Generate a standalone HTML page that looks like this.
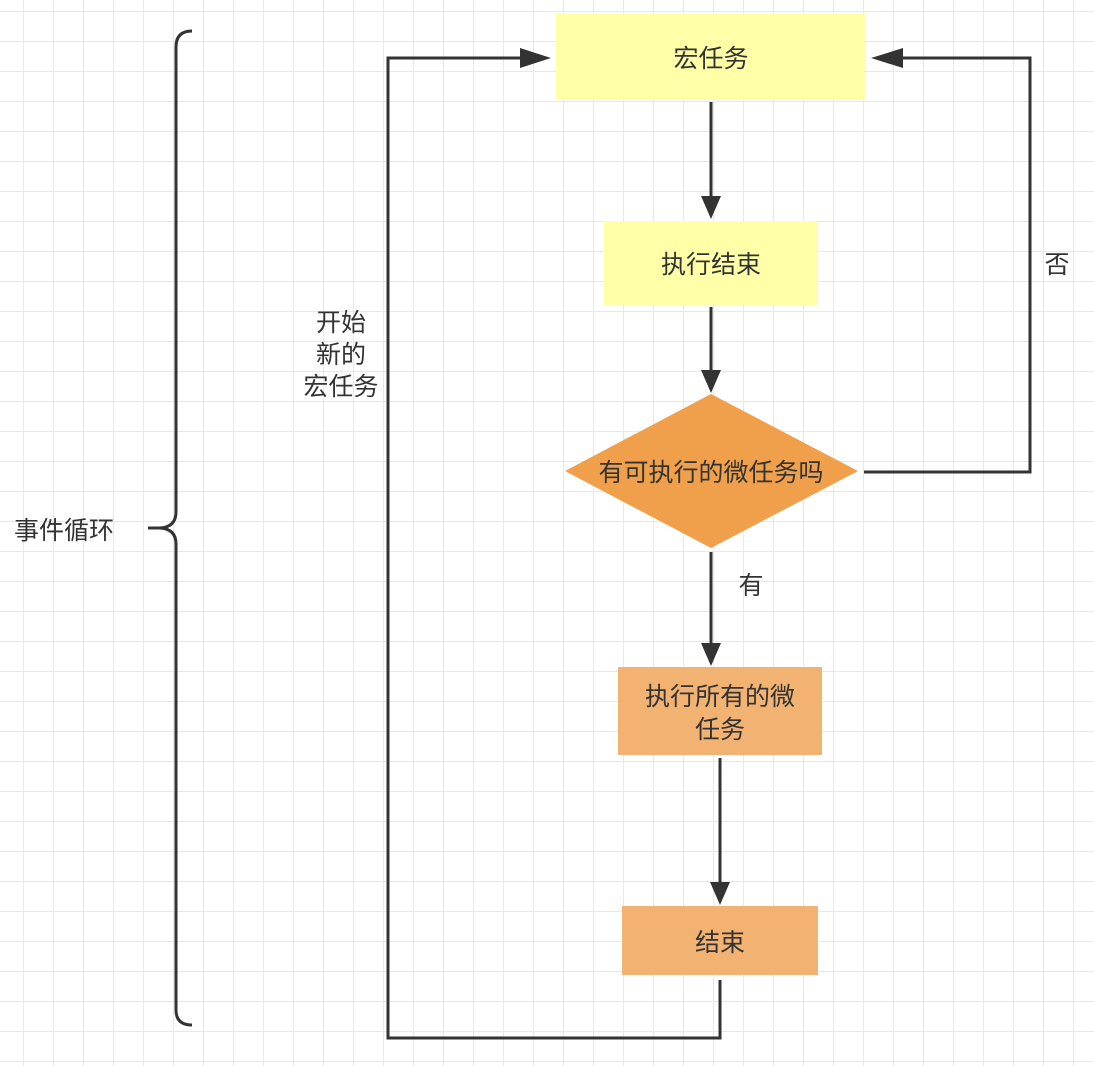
<!DOCTYPE html>
<html><head><meta charset="utf-8"><style>
html,body{margin:0;padding:0;background:#fff}
svg{display:block}
text{font-family:"Liberation Sans","Noto Sans CJK SC",sans-serif;fill:#333;font-size:25px}
</style></head><body>
<svg width="1094" height="1066" viewBox="0 0 1094 1066" xmlns="http://www.w3.org/2000/svg">
<defs>
<pattern id="g" x="23" y="11" width="30" height="30" patternUnits="userSpaceOnUse">
<path d="M0 0V30M0 0H30" stroke="#e8e8e8" stroke-width="2" fill="none"/>
</pattern>
</defs>
<rect width="1094" height="1066" fill="url(#g)"/>
<g stroke="#333" stroke-width="3" fill="none">
<path d="M192 31 Q176 31 176 47 V512 Q176 527 160 528 H148 H160 Q176 529 176 544 V1010 Q176 1025 192 1025"/>
<path d="M711 102 V198"/>
<path d="M711 307 V372"/>
<path d="M711 552 V645"/>
<path d="M720 758 V884"/>
<path d="M720 980 V1038 H388 V58 H528"/>
<path d="M864 472 H1030 V58 H896"/>
</g>
<g fill="#333">
<polygon points="701,196 721,196 711,219"/>
<polygon points="701,370 721,370 711,393"/>
<polygon points="701,643 721,643 711,666"/>
<polygon points="710,882 730,882 720,905"/>
<polygon points="520,48 520,68 551,58"/>
<polygon points="903,48 903,68 871,58"/>
</g>
<rect x="556" y="14" width="309" height="86" fill="#ffffa8"/>
<rect x="604" y="221" width="214" height="84" fill="#ffffa8"/>
<polygon points="711,394 858,471 711,548 565,471" fill="#f0a04b"/>
<rect x="618" y="667" width="204" height="88" fill="#f2b272"/>
<rect x="622" y="906" width="196" height="69" fill="#f2b272"/>
<g text-anchor="middle">
<text x="711" y="67">宏任务</text>
<text x="711" y="273">执行结束</text>
<text x="711" y="481">有可执行的微任务吗</text>
<text x="720" y="705">执行所有的微</text>
<text x="720" y="738">任务</text>
<text x="720" y="951">结束</text>
<text x="341" y="331">开始</text>
<text x="341" y="363">新的</text>
<text x="341" y="395">宏任务</text>
<text x="751" y="594">有</text>
<text x="1057" y="273">否</text>
<text x="64" y="539">事件循环</text>
</g>
</svg>
</body></html>
